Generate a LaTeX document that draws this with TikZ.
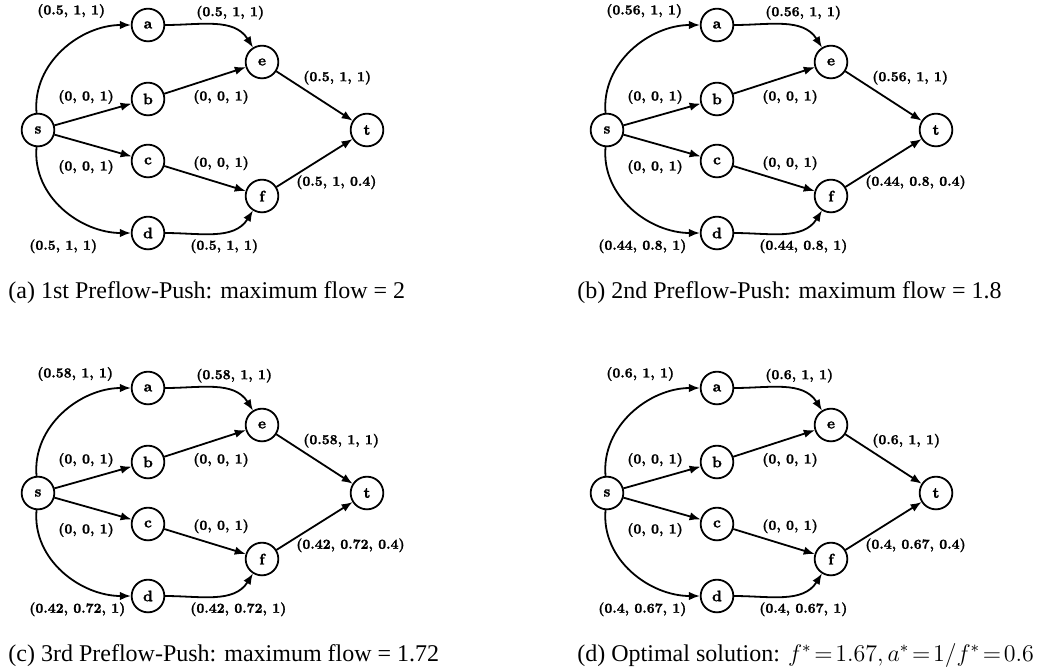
\documentclass[tikz,border=0pt]{standalone}
\usepackage{amsmath}
\usepackage{fontspec}
\usepackage{tikz}
\usetikzlibrary{arrows.meta}
\newfontfamily\capfont{Liberation Serif}
\newfontfamily\lblfont{lmroman10-bold.otf}[FakeBold=1.5]
\tikzset{
  vtx/.style={circle, draw=black, line width=0.9pt, minimum size=21.5pt, inner sep=0pt,
    font=\lblfont, scale=0.76, transform shape},
  lbl/.style={font=\lblfont, inner sep=0pt, anchor=west, scale=0.69, transform shape},
  arr/.style={-{Latex[length=5.5pt, width=4.2pt]}, draw=black, line width=0.9pt},
  subcap/.style={font=\capfont\fontsize{12}{14}\selectfont, inner sep=0pt, anchor=base west},
}

\begin{document}
\begin{tikzpicture}[x=0.5pt, y=0.5pt]
  \useasboundingbox (0,0) rectangle (1056,-671);
  % ---- one panel per run: flow on top path, bottom path and f -> t
  \foreach \px/\py/\up/\dn/\ft/\txt in {
      0/0/{(0.5, 1, 1)}/{(0.5, 1, 1)}/{(0.5, 1, 0.4)}/{(a) 1st Preflow-Push: maximum flow = 2},
      569/0/{(0.56, 1, 1)}/{(0.44, 0.8, 1)}/{(0.44, 0.8, 0.4)}/{(b) 2nd Preflow-Push: maximum flow = 1.8},
      0/-363/{(0.58, 1, 1)}/{(0.42, 0.72, 1)}/{(0.42, 0.72, 0.4)}/{(c) 3rd Preflow-Push: maximum flow = 1.72},
      569/-363/{(0.6, 1, 1)}/{(0.4, 0.67, 1)}/{(0.4, 0.67, 0.4)}/{(d) Optimal solution: $f^*\!=\!1.67, a^*\!=\!1/f^*\!=\!0.6$}} {
    \begin{scope}[shift={(\px,\py)}]
      \node[vtx] (s) at (38,-130) {s};
      \node[vtx] (a) at (148,-25) {a};
      \node[vtx] (b) at (148,-99) {b};
      \node[vtx] (c) at (148,-161) {c};
      \node[vtx] (d) at (148,-233) {d};
      \node[vtx] (e) at (262,-62) {e};
      \node[vtx] (f) at (262,-196) {f};
      \node[vtx] (t) at (367,-130) {t};
      \draw[arr] (s) to[out=95, in=180] (a);
      \draw[arr] (s) -- (b);
      \draw[arr] (s) -- (c);
      \draw[arr] (s) to[out=-95, in=180] (d);
      \draw[arr] (a) to[out=0, in=122] (e);
      \draw[arr] (b) -- (e);
      \draw[arr] (c) -- (f);
      \draw[arr] (d) to[out=0, in=-122] (f);
      \draw[arr] (e) -- (t);
      \draw[arr] (f) -- (t);
      % ---- edge labels (flow, scaled flow, capacity)
      \node[lbl] (lsa) at (37,-11) {\up};
      \node[lbl] (lae) at (196,-12.7) {\up};
      \node[lbl] (let) at (303,-77.7) {\up};
      \node[lbl] (lsb) at (58,-97) {(0, 0, 1)};
      \node[lbl] (lbe) at (193,-97) {(0, 0, 1)};
      \node[lbl] (lsc) at (58,-167) {(0, 0, 1)};
      \node[lbl] (lcf) at (193,-163.3) {(0, 0, 1)};
      \node[lbl] (lft) at (296,-182.3) {\ft};
      \node[lbl] (lsd) at (29,-246.3) {\dn};
      \node[lbl] (ldf) at (190,-246.3) {\dn};
      \node[subcap] (cap) at (8,-298) {\txt};
    \end{scope}
  }
\end{tikzpicture}
\end{document}
